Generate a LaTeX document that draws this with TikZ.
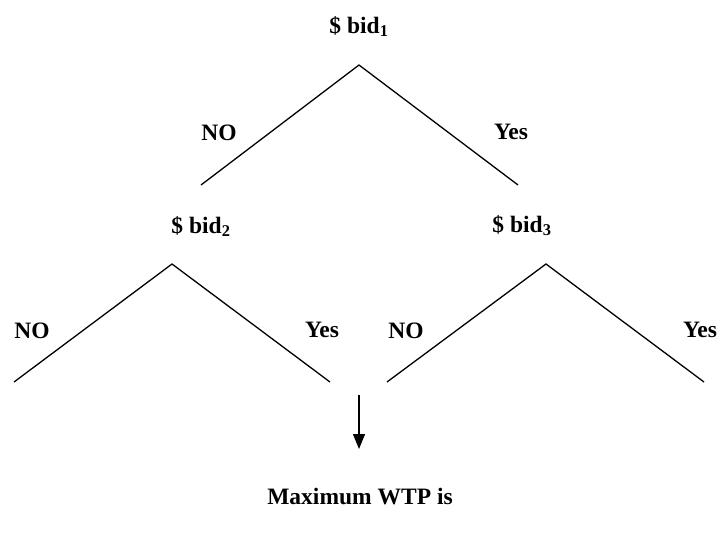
\documentclass[tikz,border=0pt]{standalone}
\usepackage{fontspec}
\setmainfont{Liberation Serif}
\usetikzlibrary{arrows.meta}
\begin{document}
\begin{tikzpicture}[x=1pt,y=-1pt,
  lbl/.style={font=\fontsize{23.5}{28}\selectfont\bfseries, inner sep=0pt, anchor=base},
  branch/.style={line width=1.3pt},
  arr/.style={line width=1.3pt, -{Triangle[length=15pt,width=12pt]}}]
\useasboundingbox (0,0) rectangle (721,536);
% level 1
\node[lbl] (b1) at (359,33) {\$ bid$_{\mathbf 1}$};
\coordinate (a1) at (359,65);
\coordinate (l1) at (201,185);
\coordinate (r1) at (518,185);
\draw[branch] (l1) -- (a1) -- (r1);
\node[lbl] (no1) at (219,140) {NO};
\node[lbl] (yes1) at (511,139) {Yes};
% level 2 left
\node[lbl] (b2) at (201,233) {\$ bid$_{\mathbf 2}$};
\coordinate (a2) at (172,264);
\coordinate (l2) at (14,382);
\coordinate (r2) at (330,382);
\draw[branch] (l2) -- (a2) -- (r2);
\node[lbl] (no2) at (32,338) {NO};
\node[lbl] (yes2) at (322,337) {Yes};
% level 2 right
\node[lbl] (b3) at (522,232) {\$ bid$_{\mathbf 3}$};
\coordinate (a3) at (546,264);
\coordinate (l3) at (387,382);
\coordinate (r3) at (704,382);
\draw[branch] (l3) -- (a3) -- (r3);
\node[lbl] (no3) at (406,338) {NO};
\node[lbl] (yes3) at (700,337) {Yes};
% arrow
\coordinate (s) at (359,395);
\node[lbl] (wtp) at (360,504) {Maximum WTP is};
\coordinate (e) at (359,449);
\draw[arr] (s) -- (e);
\end{tikzpicture}
\end{document}
